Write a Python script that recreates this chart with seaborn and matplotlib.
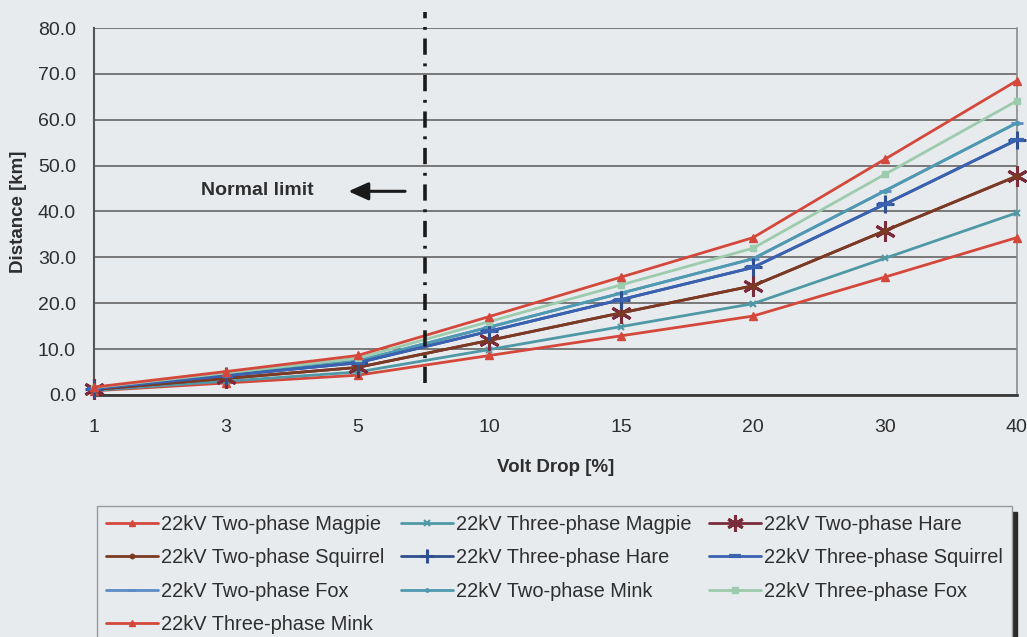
import numpy as np
import pandas as pd
import matplotlib
matplotlib.use("Agg")
import matplotlib.pyplot as plt
import seaborn as sns
from matplotlib.lines import Line2D

# Volt drop categories (x axis) and distances in km for each conductor / phase set
volt_drop = ["1", "3", "5", "10", "15", "20", "30", "40"]

two_phase_magpie = [0.9, 2.6, 4.3, 8.6, 12.9, 17.2, 25.7, 34.3]
three_phase_magpie = [1.0, 3.0, 5.0, 9.9, 14.9, 19.9, 29.8, 39.7]
two_phase_hare = [1.2, 3.6, 6.0, 11.9, 17.9, 23.8, 35.8, 47.7]
two_phase_squirrel = [1.2, 3.6, 6.0, 11.9, 17.9, 23.8, 35.8, 47.7]
three_phase_hare = [1.4, 4.2, 7.0, 13.9, 20.8, 27.8, 41.6, 55.6]
three_phase_squirrel = [1.4, 4.2, 7.0, 13.9, 20.8, 27.8, 41.6, 55.6]
two_phase_fox = [1.5, 4.4, 7.4, 14.8, 22.2, 29.7, 44.5, 59.3]
two_phase_mink = [1.5, 4.4, 7.4, 14.8, 22.2, 29.7, 44.5, 59.3]
three_phase_fox = [1.6, 4.8, 8.0, 16.0, 24.0, 32.0, 48.1, 64.1]
three_phase_mink = [1.7, 5.1, 8.6, 17.1, 25.7, 34.3, 51.4, 68.5]

series_names = [
    "22kV Two-phase Magpie",
    "22kV Three-phase Magpie",
    "22kV Two-phase Hare",
    "22kV Two-phase Squirrel",
    "22kV Three-phase Hare",
    "22kV Three-phase Squirrel",
    "22kV Two-phase Fox",
    "22kV Two-phase Mink",
    "22kV Three-phase Fox",
    "22kV Three-phase Mink",
]
series_values = [
    two_phase_magpie, three_phase_magpie, two_phase_hare, two_phase_squirrel,
    three_phase_hare, three_phase_squirrel, two_phase_fox, two_phase_mink,
    three_phase_fox, three_phase_mink,
]

# Line styling per series: colour, marker, marker size, marker edge width
styles = {
    "22kV Two-phase Magpie": ("#d4483c", "^", 6, 1.0),
    "22kV Three-phase Magpie": ("#4f98a6", "x", 5, 1.5),
    "22kV Two-phase Hare": ("#7a2c3c", (6, 2, 0), 15, 2.2),
    "22kV Two-phase Squirrel": ("#7b3a22", "o", 4, 1.0),
    "22kV Three-phase Hare": ("#2f4f8f", "+", 13, 2.2),
    "22kV Three-phase Squirrel": ("#3a62b0", "_", 10, 3.0),
    "22kV Two-phase Fox": ("#5b8cc8", "_", 8, 2.0),
    "22kV Two-phase Mink": ("#4f9ab0", ".", 6, 1.0),
    "22kV Three-phase Fox": ("#9ccbae", "s", 5, 1.0),
    "22kV Three-phase Mink": ("#d4483c", "^", 6, 1.0),
}

bg = "#e8ebee"
text_col = "#2e2e2e"

sns.set_theme(style="white")
plt.rcParams["font.family"] = ["Liberation Sans", "DejaVu Sans"]

fig = plt.figure(figsize=(10.27, 6.37), dpi=100, facecolor=bg)
ax = fig.add_axes([0.0915, 0.380, 0.8985, 0.576], facecolor=bg)

pos = np.arange(len(volt_drop))
frames = []
for name, vals in zip(series_names, series_values):
    frames.append(pd.DataFrame({"pos": pos, "distance": vals, "series": name}))
df = pd.concat(frames, ignore_index=True)

draw_order = [
    "22kV Two-phase Magpie", "22kV Three-phase Magpie", "22kV Two-phase Hare",
    "22kV Two-phase Squirrel", "22kV Two-phase Fox", "22kV Two-phase Mink",
    "22kV Three-phase Hare", "22kV Three-phase Squirrel", "22kV Three-phase Fox",
    "22kV Three-phase Mink",
]
for z, name in enumerate(draw_order):
    col, mk, ms, mew = styles[name]
    sub = df[df["series"] == name]
    sns.lineplot(data=sub, x="pos", y="distance", ax=ax, color=col, marker=mk,
                 markersize=ms, markeredgewidth=mew, markeredgecolor=col,
                 linewidth=2.0, legend=False, zorder=3 + z, clip_on=False)

ax.set_xlim(0, len(volt_drop) - 1)
ax.set_ylim(0, 80)
ax.set_xticks(pos)
ax.set_xticklabels(volt_drop)
ax.set_yticks(np.arange(0, 81, 10))
ax.set_yticklabels([f"{v:.1f}" for v in np.arange(0, 81, 10)])
ax.tick_params(axis="both", labelsize=14, colors=text_col, length=5, width=1.0,
               direction="out")
ax.tick_params(axis="x", pad=12, color="#777777")
ax.tick_params(axis="y", pad=8, color="#555555")

ax.yaxis.grid(True, color="#5a5a5a", linewidth=1.1)
ax.xaxis.grid(False)
ax.set_axisbelow(True)
ax.spines["top"].set_visible(False)
ax.spines["left"].set_color("#555555")
ax.spines["left"].set_linewidth(1.5)
ax.spines["right"].set_color("#8a8a8a")
ax.spines["right"].set_linewidth(1.2)
ax.spines["bottom"].set_color("#3a3a3a")
ax.spines["bottom"].set_linewidth(2.0)

ax.set_xlabel("Volt Drop [%]", fontsize=13.5, fontweight="bold", color=text_col,
              labelpad=17)
ax.set_ylabel("Distance [km]", fontsize=13.5, fontweight="bold", color=text_col,
              labelpad=8)

# Normal operating limit marker between 5 % and 10 %
limit_x = 2.51
ax.add_line(Line2D([limit_x, limit_x], [2.6, 83.6], color="#1a1a1a", linewidth=2.6,
                   dashes=(4.5, 2.4, 0.8, 2.4), clip_on=False, zorder=20))
ax.text(1.24, 44.5, "Normal limit", fontsize=14, fontweight="bold", color=text_col,
        ha="center", va="center")
ax.annotate("", xy=(1.93, 44.4), xytext=(2.36, 44.4),
            arrowprops=dict(arrowstyle="-|>,head_length=1.0,head_width=0.45",
                            color="#1a1a1a", lw=2.2, shrinkA=0, shrinkB=0))

# Legend laid out row by row across three columns
legend_rows = [
    ["22kV Two-phase Magpie", "22kV Three-phase Magpie", "22kV Two-phase Hare"],
    ["22kV Two-phase Squirrel", "22kV Three-phase Hare", "22kV Three-phase Squirrel"],
    ["22kV Two-phase Fox", "22kV Two-phase Mink", "22kV Three-phase Fox"],
    ["22kV Three-phase Mink"],
]
col_order = [[r[c] for r in legend_rows if len(r) > c] for c in range(3)]
ordered = [n for col in col_order for n in col]
handles = []
for name in ordered:
    col, mk, ms, mew = styles[name]
    handles.append(Line2D([], [], color=col, marker=mk, markersize=ms * 0.8,
                          markeredgewidth=mew, markeredgecolor=col, linewidth=2.0))
leg = fig.legend(handles, ordered, ncol=3, loc="upper left",
                 bbox_to_anchor=(0.0945, 1 - 506 / 637), frameon=True,
                 fontsize=14.4, handlelength=2.6, handletextpad=0.15,
                 columnspacing=0.85, labelspacing=0.72, borderpad=0.45,
                 borderaxespad=0, fancybox=False,
                 shadow={"ox": 4, "oy": -4, "color": "#2a2a2a", "alpha": 1})
leg.get_frame().set_facecolor(bg)
leg.get_frame().set_edgecolor("#9a9a9a")
leg.get_frame().set_linewidth(1.0)
for t in leg.get_texts():
    t.set_color(text_col)

fig.savefig("out.png", dpi=100, facecolor=bg)
